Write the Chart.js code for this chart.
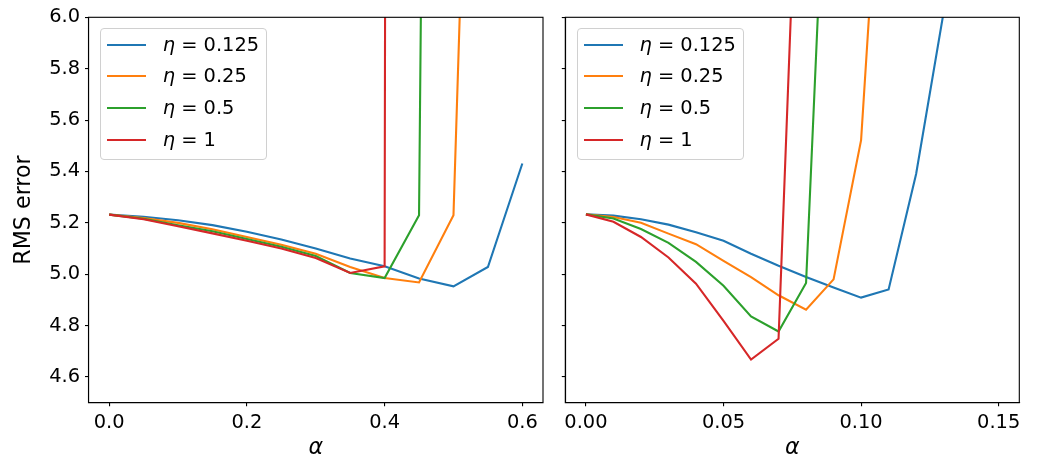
<!DOCTYPE html>
<html>
<head>
<meta charset="utf-8">
<script src="https://cdn.jsdelivr.net/npm/chart.js@4.4.1/dist/chart.umd.min.js"></script>
<style>
  body { margin: 0; background: #fff; }
  #wrap { position: relative; width: 1047px; height: 457px; overflow: hidden; }
  canvas { position: absolute; top: 0; }
  .legend {
    position: absolute; top: 27.7px; width: 165px; height: 130px;
    border: 1px solid #d0d0d0; border-radius: 4px; background: rgba(255,255,255,0.8);
    font-family: "DejaVu Sans", sans-serif; font-size: 19.4px; color: #000;
  }
  .legend .row { position: absolute; left: 0; height: 24px; line-height: 24px; }
  .legend .swatch { position: absolute; left: 6.6px; top: 11px; width: 39px; height: 2.1px; }
  .legend .txt { position: absolute; left: 62px; top: 0; white-space: nowrap; }
</style>
</head>
<body>
<div id="wrap">
  <canvas id="leftChart" width="545" height="457" style="left:0;width:545px;height:457px"></canvas>
  <canvas id="rightChart" width="502" height="457" style="left:545px;width:502px;height:457px"></canvas>
  <div class="legend" id="legendLeft" style="left:99.7px"></div>
  <div class="legend" id="legendRight" style="left:576.5px"></div>
</div>
<script>
// data
const etaLabels = ['0.125', '0.25', '0.5', '1'];
const colors = ['#1f77b4', '#ff7f0e', '#2ca02c', '#d62728'];

// left panel: alpha steps of 0.05
const alphaLeft = [0, 0.05, 0.1, 0.15, 0.2, 0.25, 0.3, 0.35, 0.4, 0.45, 0.5, 0.55, 0.6];
const leftEta0125 = [5.232, 5.224, 5.210, 5.191, 5.165, 5.135, 5.100, 5.061, 5.031, 4.983, 4.953, 5.028, 5.431];
const leftEta025 = [5.232, 5.219, 5.200, 5.175, 5.145, 5.115, 5.080, 5.028, 4.985, 4.968, 5.230, 9.5];
const leftEta05 = [5.232, 5.216, 5.191, 5.167, 5.137, 5.107, 5.071, 5.005, 4.985, 5.230, 20];
const leftEta1 = [5.232, 5.214, 5.187, 5.159, 5.130, 5.100, 5.063, 5.005, 5.031, 80];

// right panel: alpha steps of 0.01
const alphaRight = [0, 0.01, 0.02, 0.03, 0.04, 0.05, 0.06, 0.07, 0.08, 0.09, 0.1, 0.11, 0.12, 0.13];
const rightEta0125 = [5.233, 5.228, 5.214, 5.193, 5.163, 5.130, 5.080, 5.033, 4.989, 4.948, 4.909, 4.941, 5.390, 6.02];
const rightEta025 = [5.233, 5.223, 5.200, 5.158, 5.117, 5.052, 4.989, 4.918, 4.862, 4.980, 5.522, 7.2];
const rightEta05 = [5.233, 5.217, 5.176, 5.122, 5.048, 4.955, 4.836, 4.777, 4.966, 7.4];
const rightEta1 = [5.233, 5.204, 5.145, 5.065, 4.963, 4.818, 4.668, 4.749, 7.57];

// ticks
const yTicks = [4.6, 4.8, 5.0, 5.2, 5.4, 5.6, 5.8, 6.0];
const xTicksLeft = [0, 0.2, 0.4, 0.6];
const xTicksRight = [0, 0.05, 0.1, 0.15];

const FONT = '"DejaVu Sans", sans-serif';

// box round the plot area (matplotlib spines)
const boxPlugin = {
  id: 'box',
  afterDraw(chart) {
    const a = chart.chartArea, ctx = chart.ctx;
    ctx.save();
    ctx.strokeStyle = '#000';
    ctx.lineWidth = 1.1;
    ctx.strokeRect(a.left, a.top, a.right - a.left, a.bottom - a.top);
    ctx.restore();
  }
};

function makeSets(xs, seriesList) {
  return seriesList.map(function(vals, i) {
    return {
      label: 'η = ' + etaLabels[i],
      data: vals.map((v, j) => ({ x: xs[j], y: v })),
      borderColor: colors[i],
      backgroundColor: colors[i],
      borderWidth: 2.1,
      pointRadius: 0,
      tension: 0,
      fill: false,
      order: -i
    };
  });
}

function makeChart(id, sets, opt) {
  return new Chart(document.getElementById(id), {
    type: 'line',
    data: { datasets: sets },
    plugins: [boxPlugin],
    options: {
      responsive: false,
      animation: false,
      devicePixelRatio: 1,
      layout: { padding: { top: 17.3, right: opt.padRight, bottom: 0, left: 0 } },
      plugins: { legend: { display: false }, tooltip: { enabled: false } },
      scales: {
        x: {
          type: 'linear',
          min: opt.xMin,
          max: opt.xMax,
          afterFit: s => { s.height = 54.3; },
          afterBuildTicks: s => { s.ticks = opt.xTicks.map(v => ({ value: v })); },
          grid: { drawOnChartArea: false, drawTicks: true, tickLength: 3.5, color: '#000', lineWidth: 1.1 },
          border: { display: true, color: '#000', width: 1.1 },
          ticks: {
            padding: 4.9,
            color: '#000',
            font: { family: FONT, size: 19.4 },
            maxRotation: 0,
            autoSkip: false,
            callback: v => v.toFixed(opt.xDigits)
          },
          title: {
            display: true,
            text: 'α',
            color: '#000',
            padding: { top: 0, bottom: 0 },
            font: { family: FONT, size: 22.2, style: 'italic', lineHeight: 0.8 }
          }
        },
        y: {
          min: 4.5,
          max: 6.0,
          afterFit: s => { s.width = opt.yWidth; },
          afterBuildTicks: s => { s.ticks = yTicks.map(v => ({ value: v })); },
          grid: { drawOnChartArea: false, drawTicks: true, tickLength: 3.5, color: '#000', lineWidth: 1.1 },
          border: { display: true, color: '#000', width: 1.1 },
          ticks: {
            display: opt.yLabels,
            padding: 4.9,
            color: '#000',
            font: { family: FONT, size: 19.4 },
            callback: v => v.toFixed(1)
          },
          title: {
            display: opt.yLabels,
            text: 'RMS error',
            color: '#000',
            padding: { top: 13.4, bottom: 0 },
            font: { family: FONT, size: 22.2, lineHeight: 1 }
          }
        }
      }
    }
  });
}

makeChart('leftChart', makeSets(alphaLeft, [leftEta0125, leftEta025, leftEta05, leftEta1]), {
  xMin: -0.03, xMax: 0.63, xTicks: xTicksLeft, xDigits: 1, yWidth: 88.5, yLabels: true, padRight: 2
});
makeChart('rightChart', makeSets(alphaRight, [rightEta0125, rightEta025, rightEta05, rightEta1]), {
  xMin: -0.0075, xMax: 0.1575, xTicks: xTicksRight, xDigits: 2, yWidth: 20.3, yLabels: false, padRight: 27.7
});

// legends drawn as html text inside each plot
function buildLegend(id) {
  const box = document.getElementById(id);
  const rowTops = [4.6, 35.3, 67, 99.3];
  etaLabels.forEach(function(lab, i) {
    const row = document.createElement('div');
    row.className = 'row';
    row.style.top = rowTops[i] + 'px';
    row.innerHTML = '<span class="swatch" style="background:' + colors[i] + '"></span>' +
      '<span class="txt"><i>η</i> = ' + lab + '</span>';
    box.appendChild(row);
  });
}
buildLegend('legendLeft');
buildLegend('legendRight');
</script>
</body>
</html>
